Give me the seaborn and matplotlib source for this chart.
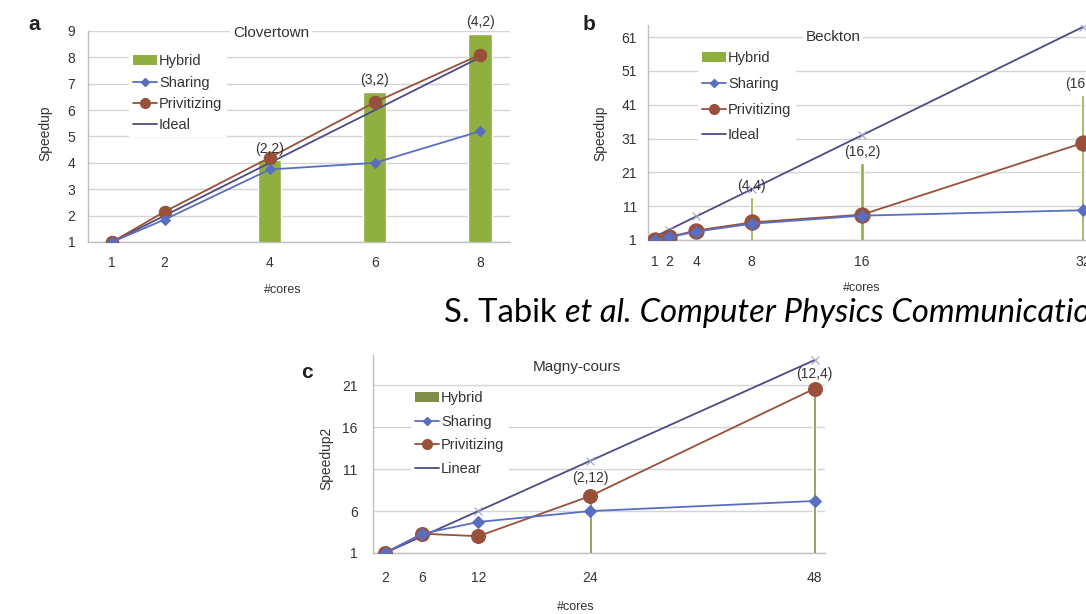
import matplotlib
matplotlib.use("Agg")
import matplotlib.pyplot as plt
from matplotlib.lines import Line2D
from matplotlib.patches import Patch
import seaborn as sns
import pandas as pd

sns.set_theme(style="white")
plt.rcParams["font.family"] = ["Liberation Sans", "DejaVu Sans"]

# ---- Clovertown ----
a_cores = [1, 2, 4, 6, 8]
a_sharing = [1.0, 1.85, 3.75, 4.0, 5.2]
a_privitizing = [1.0, 2.15, 4.2, 6.3, 8.1]
a_ideal = [1, 2, 4, 6, 8]
a_hybrid_cores = [4, 6, 8]
a_hybrid = [4.1, 6.7, 8.9]
a_hybrid_labels = ["(2,2)", "(3,2)", "(4,2)"]
a_yticks = [1, 2, 3, 4, 5, 6, 7, 8, 9]

# ---- Beckton ----
b_cores = [1, 2, 4, 8, 16, 32]
b_sharing = [1.0, 1.8, 3.5, 5.8, 8.2, 9.8]
b_privitizing = [1.0, 1.9, 3.8, 6.2, 8.5, 29.7]
b_ideal = [2, 4, 8, 16, 32, 64]
b_hybrid_cores = [8, 16, 32]
b_hybrid = [13.7, 23.8, 43.9]
b_hybrid_labels = ["(4,4)", "(16,2)", "(16,4)"]
b_yticks = [1, 11, 21, 31, 41, 51, 61]

# ---- Magny-cours ----
c_cores = [2, 6, 12, 24, 48]
c_sharing = [1.0, 3.3, 4.7, 6.0, 7.2]
c_privitizing = [1.0, 3.3, 3.0, 7.8, 20.6]
c_linear = [1, 3, 6, 12, 24]
c_hybrid_cores = [24, 48]
c_hybrid = [8.6, 21.0]
c_hybrid_labels = ["(2,12)", "(12,4)"]
c_yticks = [1, 6, 11, 16, 21]

GREEN = "#8fb040"
GREEN_C = "#7f8f4a"
BLUE = "#5a6ebf"
BROWN = "#98503a"
NAVY = "#4b4c86"
GRID = "#d4d4d4"
SPINE = "#bfbfbf"
TXT = "#333333"

W, H = 1086, 614
fig = plt.figure(figsize=(W / 100, H / 100), dpi=100)
fig.patch.set_facecolor("white")


def rect(left, top, right, bottom):
    return [left / W, 1 - bottom / H, (right - left) / W, (bottom - top) / H]


def ftext(px, py, s, **kw):
    fig.text(px / W, 1 - py / H, s, transform=fig.transFigure, **kw)


def panel(ax, cores, sharing, priv, ideal, ideal_name, h_cores, h_vals, h_labels,
          bar_width, bar_color, xlim, ylim, yticks, xpad, ypad, title, title_pos,
          leg_anchor, leg_spacing, mk_priv, mk_share, ideal_marker):
    hyb = pd.DataFrame({"cores": h_cores, "speedup": h_vals})
    sns.barplot(data=hyb, x="cores", y="speedup", native_scale=True, ax=ax,
                color=bar_color, saturation=1, width=bar_width, errorbar=None,
                zorder=2)
    sns.lineplot(x=cores, y=ideal, ax=ax, color=NAVY, lw=1.3, marker=ideal_marker,
                 markersize=6, markeredgecolor="#9aa0c8", markeredgewidth=0.8,
                 zorder=3)
    sns.lineplot(x=cores, y=priv, ax=ax, color=BROWN, lw=1.3, marker="o",
                 markersize=mk_priv, markeredgecolor=BROWN, zorder=4)
    sns.lineplot(x=cores, y=sharing, ax=ax, color=BLUE, lw=1.3, marker="D",
                 markersize=mk_share, markeredgecolor=BLUE, zorder=5)
    for xc, v, lab in zip(h_cores, h_vals, h_labels):
        ax.annotate(lab, xy=(xc, v), xytext=(0, 3), textcoords="offset points",
                    ha="center", va="bottom", fontsize=10, color=TXT, zorder=6)
    ax.set_xlim(*xlim)
    ax.set_ylim(*ylim)
    ax.set_yticks(yticks)
    ax.set_xticks(cores)
    ax.set_xticklabels([str(c) for c in cores])
    ax.set_xlabel("")
    ax.set_ylabel("")
    ax.grid(axis="y", color=GRID, lw=1.0, zorder=0)
    ax.set_axisbelow(True)
    for s in ["top", "right"]:
        ax.spines[s].set_visible(False)
    for s in ["left", "bottom"]:
        ax.spines[s].set_color(SPINE)
        ax.spines[s].set_linewidth(1.0)
    ax.tick_params(axis="x", length=0, pad=xpad, labelsize=10, colors=TXT)
    ax.tick_params(axis="y", length=0, pad=ypad, labelsize=10, colors=TXT)
    ax.set_facecolor("white")
    ftext(title_pos[0], title_pos[1], title, ha="center", va="center",
          fontsize=11, color=TXT,
          bbox=dict(facecolor="white", edgecolor="none", pad=2))
    handles = [
        Patch(facecolor=bar_color, edgecolor="none"),
        Line2D([], [], color=BLUE, marker="D", markersize=4, lw=1.3),
        Line2D([], [], color=BROWN, marker="o", markersize=7, lw=1.3),
        Line2D([], [], color=NAVY, lw=1.3),
    ]
    leg = ax.legend(handles, ["Hybrid", "Sharing", "Privitizing", ideal_name],
                    loc="upper left",
                    bbox_to_anchor=(leg_anchor[0] / W, 1 - leg_anchor[1] / H),
                    bbox_transform=fig.transFigure, frameon=True, fontsize=10.5,
                    handlelength=1.6, handletextpad=0.15, labelspacing=leg_spacing,
                    borderpad=0.3, borderaxespad=0, fancybox=False)
    leg.get_frame().set_facecolor("white")
    leg.get_frame().set_edgecolor("none")
    leg.get_frame().set_alpha(1)
    leg.set_zorder(7)
    for t in leg.get_texts():
        t.set_color(TXT)


# Panel a: Clovertown
ax_a = fig.add_axes(rect(88, 31, 510, 242))
panel(ax_a, a_cores, a_sharing, a_privitizing, a_ideal, "Ideal",
      a_hybrid_cores, a_hybrid, a_hybrid_labels, 0.22, GREEN,
      (0.543, 8.57), (1, 9), a_yticks, 10, 9, "Clovertown", (271, 33),
      (129, 50), 0.5, 9, 5, None)

# Panel b: Beckton
ax_b = fig.add_axes(rect(648, 25, 1100, 240))
panel(ax_b, b_cores, b_sharing, b_privitizing, b_ideal, "Ideal",
      b_hybrid_cores, b_hybrid, b_hybrid_labels, 0.0275, GREEN,
      (0.49, 33.25), (1, 64.6), b_yticks, 11, 8, "Beckton", (833, 37),
      (698, 47), 0.8, 11, 6, "x")

# Panel c: Magny-cours
ax_c = fig.add_axes(rect(373, 355, 825, 553))
panel(ax_c, c_cores, c_sharing, c_privitizing, c_linear, "Linear",
      c_hybrid_cores, c_hybrid, c_hybrid_labels, 0.012, GREEN_C,
      (0.72, 49.1), (1, 24.6), c_yticks, 13, 11, "Magny-cours", (577, 367),
      (411, 387), 0.65, 10, 6, "x")

# axis titles
ftext(45, 133, "Speedup", rotation=90, ha="center", va="center", fontsize=10, color=TXT)
ftext(600, 133, "Speedup", rotation=90, ha="center", va="center", fontsize=10, color=TXT)
ftext(326, 458, "Speedup2", rotation=90, ha="center", va="center", fontsize=10, color=TXT)
ftext(283, 290, "#cores", ha="center", va="center", fontsize=9, color=TXT)
ftext(862, 288, "#cores", ha="center", va="center", fontsize=9, color=TXT)
ftext(576, 607, "#cores", ha="center", va="center", fontsize=9, color=TXT)

# panel letters
ftext(34, 24, "a", ha="center", va="center", fontsize=15, fontweight="bold", color="#222222")
ftext(589, 25, "b", ha="center", va="center", fontsize=15, fontweight="bold", color="#222222")
ftext(307, 372, "c", ha="center", va="center", fontsize=15, fontweight="bold", color="#222222")

# citation line
cite_kw = dict(fontsize=23.6, color="black", family=["Lato", "DejaVu Sans"], va="baseline")
fig.text(444 / W, 1 - 322 / H, "S. Tabik ", ha="left", **cite_kw)
t1 = fig.text(0, 0, "S. Tabik ", **cite_kw)
fig.canvas.draw()
r = fig.canvas.get_renderer()
w1 = t1.get_window_extent(r).width
t1.remove()
x2 = 444 + w1
t2 = fig.text(x2 / W, 1 - 322 / H, "et al.", style="italic", ha="left", **cite_kw)
w2 = t2.get_window_extent(r).width
fig.text((x2 + w2) / W, 1 - 322 / H, " Computer Physics Communications",
         style="italic", ha="left", **cite_kw)

fig.savefig("out.png", dpi=100, facecolor="white")
